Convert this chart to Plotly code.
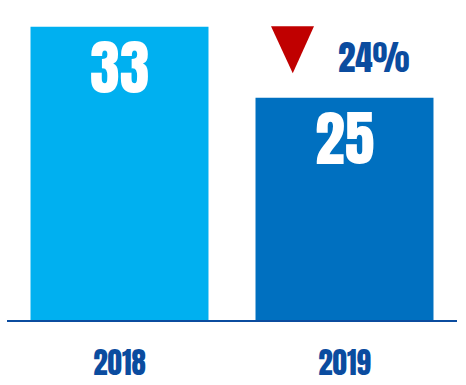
import plotly.graph_objects as go

years = ["2018", "2019"]
values = [33, 25]
bar_colors = ["#00B0F0", "#0070C0"]

FONT = "Anton, Oswald, DejaVu Sans Condensed, sans-serif"
DARK = "#0B4C9F"

pct = round((values[0] - values[1]) / values[0] * 100)

fig = go.Figure()
fig.add_trace(go.Bar(
    x=years, y=values, marker=dict(color=bar_colors, line=dict(width=0)),
    width=0.791, hoverinfo="skip", showlegend=False,
))

for i, v in enumerate(values):
    fig.add_annotation(
        x=i, y=v, text=f"{v}", showarrow=False,
        yanchor="middle", xanchor="center", yshift=-41,
        font=dict(family=FONT, size=60, color="white"),
    )

fig.add_annotation(
    x=1, y=values[1], text=f"{pct}%", showarrow=False,
    xanchor="center", yanchor="middle", xshift=29, yshift=40.5,
    font=dict(family=FONT, size=35, color=DARK),
)

fig.add_shape(
    type="path", xref="x", yref="y", xsizemode="pixel", ysizemode="pixel",
    xanchor=1, yanchor=values[1],
    path="M -73.5,71.5 L -30.5,71.5 L -51.75,24.5 Z",
    fillcolor="#C00000", line=dict(width=0),
)

fig.update_layout(
    width=466, height=385,
    margin=dict(l=7, r=9, t=0, b=65, autoexpand=False),
    paper_bgcolor="white", plot_bgcolor="white",
    xaxis=dict(
        type="category", range=[-0.5, 1.5], showline=True, linecolor=DARK, linewidth=1.5,
        tickfont=dict(family=FONT, size=29, color=DARK),
        tickvals=years, ticktext=years, automargin=False,
        ticks="", ticklabelstandoff=18, showgrid=False, zeroline=False,
    ),
    yaxis=dict(range=[0, 36], visible=False, showgrid=False, zeroline=False, automargin=False),
)

fig.write_html("out.html")
